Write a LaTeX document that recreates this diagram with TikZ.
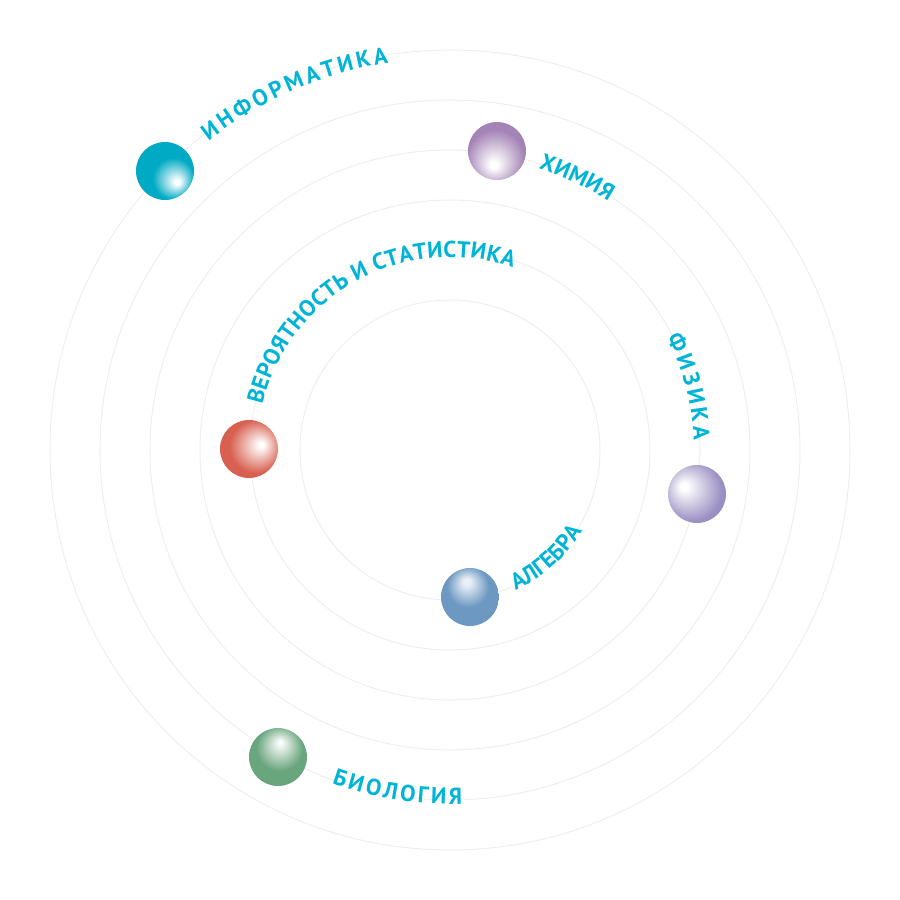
\documentclass[tikz,border=0pt]{standalone}
\usepackage{fontspec}
\setmainfont{PT Sans}
\usetikzlibrary{decorations.text}

\definecolor{labelc}{RGB}{0,180,214}
\definecolor{orbitc}{RGB}{238,238,238}
\definecolor{infoc}{RGB}{0,169,196}
\definecolor{chemc}{RGB}{164,132,182}
\definecolor{probc}{RGB}{216,96,80}
\definecolor{physc}{RGB}{154,143,194}
\definecolor{algc}{RGB}{109,152,194}
\definecolor{bioc}{RGB}{105,165,125}

\pgfdeclareradialshading{infoball}{\pgfpoint{11bp}{-10bp}}{color(0bp)=(white); color(2bp)=(white); color(18bp)=(infoc); color(50bp)=(infoc)}
\pgfdeclareradialshading{chemball}{\pgfpoint{-3bp}{-13bp}}{color(0bp)=(white); color(3bp)=(white); color(25bp)=(chemc); color(50bp)=(chemc)}
\pgfdeclareradialshading{probball}{\pgfpoint{11bp}{4bp}}{color(0bp)=(white); color(2bp)=(white); color(23bp)=(probc); color(50bp)=(probc)}
\pgfdeclareradialshading{physball}{\pgfpoint{-12bp}{7bp}}{color(0bp)=(white); color(3bp)=(white); color(27bp)=(physc); color(50bp)=(physc)}
\pgfdeclareradialshading{algball}{\pgfpoint{-3bp}{14bp}}{color(0bp)=(white!85!algc); color(3bp)=(white!85!algc); color(18bp)=(algc); color(50bp)=(algc)}
\pgfdeclareradialshading{bioball}{\pgfpoint{2bp}{13bp}}{color(0bp)=(white); color(2bp)=(white!95!bioc); color(20bp)=(bioc); color(50bp)=(bioc)}

\begin{document}
\begin{tikzpicture}[x=0.5pt, y=0.5pt,
    planet/.style={circle, inner sep=0pt, minimum size=29pt},
    orbit/.style={draw=orbitc, line width=0.5pt},
    subject/.style={decorate, decoration={text along path, text align={fit to path}, text color=labelc, text={|\fontsize{11.5}{13}\selectfont\bfseries|#1}}}]

    \useasboundingbox (-450,-450) rectangle (450,450);

    \foreach \r in {150,200,...,400}
        \path[orbit] (0,0) circle[radius=\r];

    \node[planet, shading=infoball] (1) at (-285,279) {};
    \node[planet, shading=chemball] (2) at (47,299) {};
    \node[planet, shading=probball] (3) at (-201,1) {};
    \node[planet, shading=physball] (4) at (247,-44) {};
    \node[planet, shading=algball] (5) at (20,-147) {};
    \node[planet, shading=bioball] (6) at (-172,-307) {};

    \path[subject=ИНФОРМАТИКА] (128:392) arc[start angle=128, end angle=99, radius=392];
    \path[subject=ХИМИЯ] (72.5:295) arc[start angle=72.5, end angle=57.5, radius=295];
    \path[subject=ВЕРОЯТНОСТЬ И СТАТИСТИКА] (166.5:193) arc[start angle=166.5, end angle=71, radius=193];
    \path[subject=ФИЗИКА] (27.5:244) arc[start angle=27.5, end angle=2.3, radius=244];
    \path[subject=АЛГЕБРА] (-65:155) arc[start angle=-65, end angle=-32, radius=155];
    \path[subject=БИОЛОГИЯ] (-109.5:354) arc[start angle=-109.5, end angle=-88, radius=354];

\end{tikzpicture}
\end{document}
